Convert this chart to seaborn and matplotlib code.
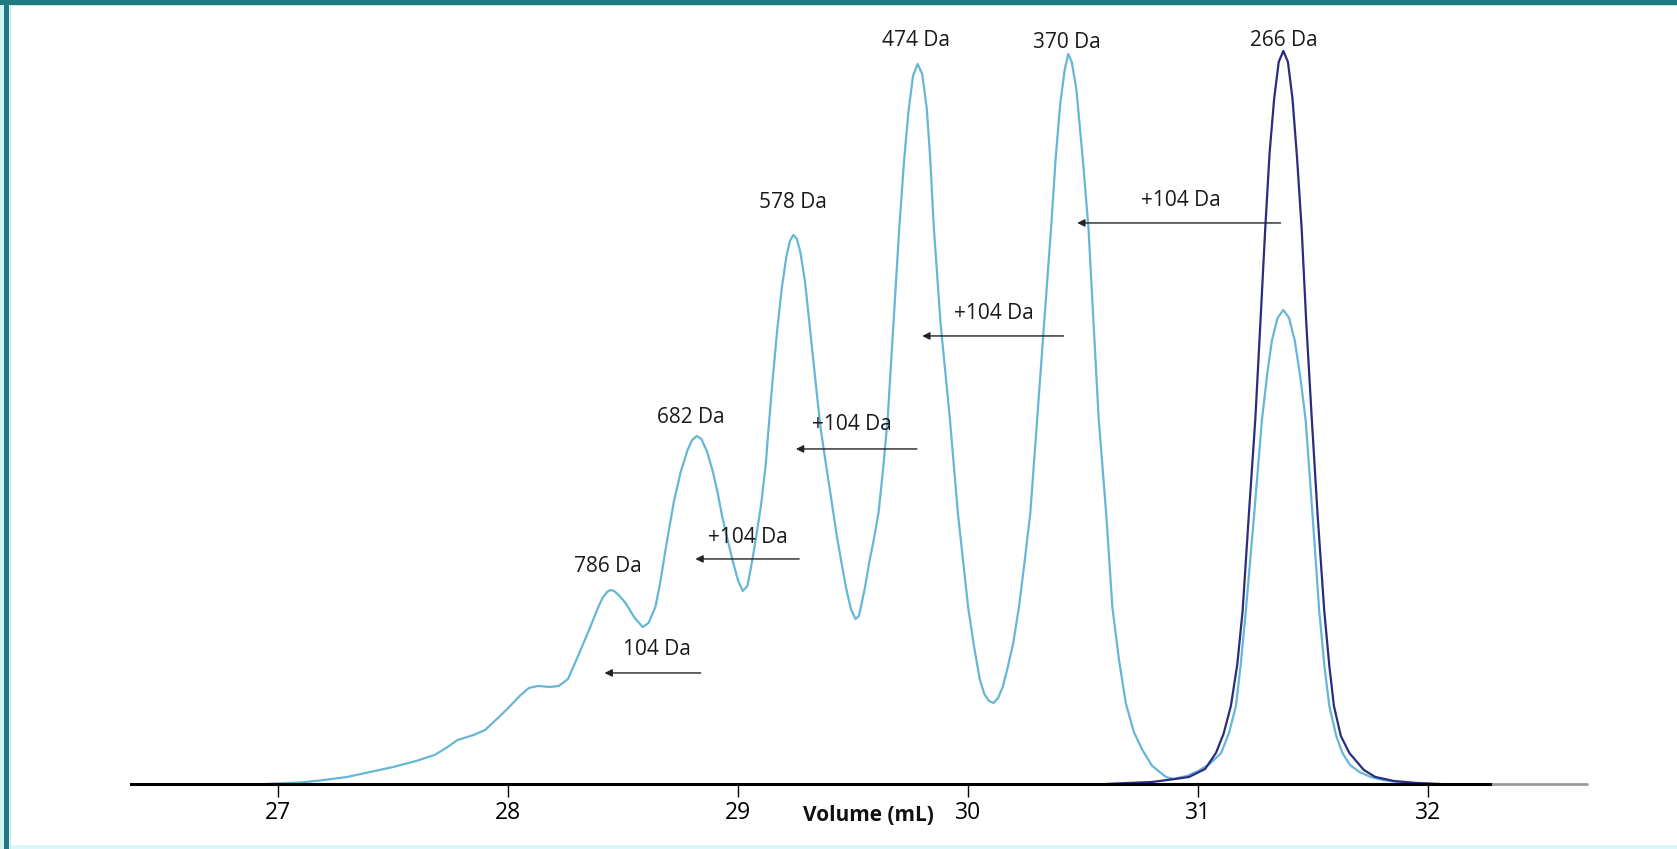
import matplotlib
matplotlib.use("Agg")
import matplotlib.pyplot as plt
from matplotlib.patches import Rectangle
import pandas as pd
import seaborn as sns

# ---- data (volume in mL, absorbance in arbitrary units) ----
sample_volume = [26.95, 27.0, 27.1, 27.2, 27.3, 27.4, 27.5, 27.6, 27.68, 27.73, 27.78, 27.85,
                 27.9, 27.96, 28.0, 28.05, 28.09, 28.13, 28.18, 28.22, 28.26, 28.30, 28.35,
                 28.39, 28.41, 28.43, 28.445, 28.46, 28.48, 28.51, 28.55, 28.585, 28.61, 28.64,
                 28.66, 28.686, 28.72, 28.75, 28.78, 28.80, 28.82, 28.84, 28.865, 28.89, 28.91,
                 28.93, 28.955, 28.975, 29.0, 29.02, 29.04, 29.06, 29.08, 29.10, 29.12, 29.13,
                 29.15, 29.17, 29.19, 29.21, 29.225, 29.24, 29.255, 29.27, 29.29, 29.31, 29.335,
                 29.358, 29.38, 29.40, 29.428, 29.45, 29.47, 29.49, 29.51, 29.525, 29.55, 29.57,
                 29.59, 29.61, 29.63, 29.65, 29.675, 29.70, 29.72, 29.74, 29.76, 29.78, 29.80,
                 29.82, 29.835, 29.85, 29.88, 29.92, 29.955, 29.98, 30.0, 30.025, 30.05, 30.07,
                 30.09, 30.11, 30.13, 30.15, 30.17, 30.195, 30.22, 30.245, 30.27, 30.30, 30.33,
                 30.36, 30.38, 30.40, 30.42, 30.435, 30.45, 30.47, 30.50, 30.523, 30.545, 30.567,
                 30.60, 30.627, 30.655, 30.685, 30.72, 30.757, 30.80, 30.86, 30.89, 30.95, 31.0,
                 31.05, 31.10, 31.135, 31.164, 31.185, 31.207, 31.243, 31.277, 31.30, 31.32,
                 31.345, 31.37, 31.395, 31.42, 31.445, 31.467, 31.497, 31.526, 31.55, 31.57,
                 31.60, 31.627, 31.66, 31.70, 31.75, 31.80, 31.90, 32.0]
sample_abs = [0, 0.5, 1.5, 4, 7, 12, 17, 23, 29, 36, 44, 49,
              54, 67, 76, 88, 96, 98, 97, 98, 105, 126, 153,
              176, 186, 192, 194, 193, 189, 181, 166, 157, 161, 177,
              200, 237, 282, 312, 334, 344, 348, 345, 332, 312, 292,
              268, 243, 224, 203, 193, 198, 222, 250, 280, 320, 350,
              405, 455, 497, 528, 543, 549, 545, 532, 503, 460, 405,
              356, 322, 292, 249, 220, 195, 175, 165, 168, 195, 222,
              245, 271, 315, 366, 460, 555, 620, 672, 708, 720, 710,
              675, 625, 558, 460, 366, 271, 218, 176, 138, 105, 90,
              83, 81, 86, 97, 115, 140, 176, 222, 271, 366, 460,
              555, 625, 680, 715, 730, 722, 695, 620, 555, 460, 366,
              270, 176, 125, 81, 52, 34, 18, 7, 5, 8, 13,
              20, 31, 52, 78, 120, 173, 269, 364, 410, 443,
              466, 474, 466, 443, 405, 364, 269, 173, 115, 78,
              48, 31, 19, 12, 7, 4, 1, 0]

standard_volume = [30.60, 30.80, 30.90, 30.96, 31.03, 31.077, 31.11, 31.142, 31.17, 31.193,
                   31.22, 31.248, 31.27, 31.291, 31.31, 31.33, 31.35, 31.37, 31.39, 31.41,
                   31.43, 31.45, 31.47, 31.494, 31.519, 31.548, 31.57, 31.59, 31.62, 31.657,
                   31.72, 31.77, 31.85, 31.95, 32.05]
standard_abs = [0, 2, 5, 7, 15, 31, 50, 78, 120, 173,
                269, 364, 460, 554, 630, 685, 722, 733, 722, 685,
                625, 554, 460, 364, 269, 173, 118, 78, 48, 31,
                14, 7, 3, 1, 0]

tick_values = [27, 28, 29, 30, 31, 32]
tick_labels = ["27", "28", "29", "30", "31", "32"]

peak_labels = ["786 Da", "682 Da", "578 Da", "474 Da", "370 Da", "266 Da"]
peak_label_x = [28.433, 28.796, 29.237, 29.772, 30.428, 31.372]
peak_label_y = [217, 366, 581, 743, 741, 743]

shift_labels = ["104 Da", "+104 Da", "+104 Da", "+104 Da", "+104 Da"]
shift_label_x = [28.647, 29.042, 29.493, 30.111, 30.925]
shift_label_y = [134, 246, 359, 470, 583]
arrow_start_x = [28.837, 29.265, 29.777, 30.414, 31.358]
arrow_end_x = [28.419, 28.814, 29.251, 29.800, 30.474]
arrow_y = [111, 225, 335, 448, 561]

# ---- figure ----
sns.set_theme(style="white")
plt.rcParams["font.family"] = ["Open Sans", "DejaVu Sans"]

fig = plt.figure(figsize=(16.77, 8.49), dpi=100)
fig.patch.set_facecolor("white")
ax = fig.add_axes([0.0781, 0.0766, 0.8682, 0.8952])
ax.set_facecolor("none")

df = pd.concat([
    pd.DataFrame({"volume": sample_volume, "abs": sample_abs, "trace": "sample"}),
    pd.DataFrame({"volume": standard_volume, "abs": standard_abs, "trace": "standard"}),
])
sns.lineplot(data=df, x="volume", y="abs", hue="trace",
             palette={"sample": "#66b6d6", "standard": "#2c2c7e"},
             hue_order=["sample", "standard"], estimator=None, sort=False,
             linewidth=1.6, legend=False, ax=ax)
for line in ax.get_lines():
    line.set_solid_joinstyle("round")
    line.set_solid_capstyle("round")

ax.set_xlim(26.36, 32.69)
ax.set_ylim(0, 760)

for s in ["left", "right", "top"]:
    ax.spines[s].set_visible(False)
ax.spines["bottom"].set_color("black")
ax.spines["bottom"].set_linewidth(2.2)
ax.spines["bottom"].set_bounds(26.36, 32.27)
ax.axhline(0, xmin=(32.27 - 26.36) / (32.69 - 26.36), xmax=1.0,
           color="#9a9a9a", linewidth=2.0, clip_on=False)

ax.set_yticks([])
ax.set_xticks(tick_values)
ax.set_xticklabels(tick_labels)
ax.tick_params(axis="x", direction="out", length=9, width=1.0, pad=3,
               labelsize=16.5, colors="black", bottom=True)
ax.set_xlabel("Volume (mL)", fontsize=15, fontweight="bold", color="#111111")
ax.xaxis.set_label_coords((29.565 - 26.36) / (32.69 - 26.36), -0.041)
ax.xaxis.label.set_va("center")
ax.set_ylabel("")

for lab, x, y in zip(peak_labels, peak_label_x, peak_label_y):
    ax.text(x, y, lab, ha="center", va="center", fontsize=15, color="#1a1a1a")

for lab, x, y in zip(shift_labels, shift_label_x, shift_label_y):
    ax.text(x, y, lab, ha="center", va="center", fontsize=15, color="#1a1a1a")

for x0, x1, y in zip(arrow_start_x, arrow_end_x, arrow_y):
    ax.annotate("", xy=(x1, y), xytext=(x0, y),
                arrowprops=dict(arrowstyle="-|>", color="#222222", lw=1.0,
                                mutation_scale=11, shrinkA=0, shrinkB=0))

# ---- frame ----
W, H = 1677, 849
teal = "#1d7a80"
fig.patches.append(Rectangle((0, 0), 4 / W, 1, transform=fig.transFigure,
                             facecolor="#d6f3f4", edgecolor="none", zorder=0))
fig.patches.append(Rectangle((4 / W, 0), 5.5 / W, 1, transform=fig.transFigure,
                             facecolor=teal, edgecolor="none", zorder=1))
fig.patches.append(Rectangle((9.5 / W, 0), 1.2 / W, 1, transform=fig.transFigure,
                             facecolor="#bfe9ec", edgecolor="none", zorder=1))
fig.patches.append(Rectangle((0, 1 - 4.8 / H), 1, 4.8 / H, transform=fig.transFigure,
                             facecolor=teal, edgecolor="none", zorder=2))
fig.patches.append(Rectangle((9.5 / W, 1 - 6 / H), 1, 1.2 / H, transform=fig.transFigure,
                             facecolor="#bfe9ec", edgecolor="none", zorder=1))
fig.patches.append(Rectangle((10.7 / W, 0), 1, 4.5 / H, transform=fig.transFigure,
                             facecolor="#dcf8fa", edgecolor="none", zorder=1))

fig.savefig("out.png", dpi=100, facecolor=fig.get_facecolor())
